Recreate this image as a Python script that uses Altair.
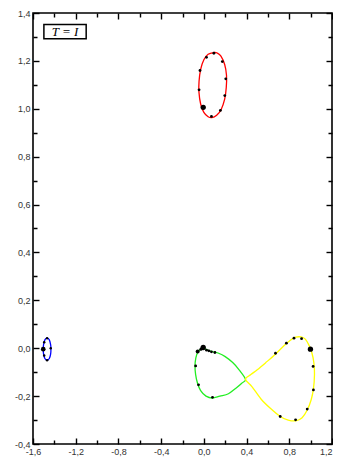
import altair as alt
import pandas as pd

# ---- axis ticks ----
x_ticks = [-1.6, -1.4, -1.2, -1.0, -0.8, -0.6, -0.4, -0.2, 0.0, 0.2, 0.4, 0.6, 0.8, 1.0, 1.2]
y_ticks = [-0.4, -0.3, -0.2, -0.1, 0.0, 0.1, 0.2, 0.3, 0.4, 0.5, 0.6, 0.7, 0.8, 0.9, 1.0,
           1.1, 1.2, 1.3, 1.4]

# ---- curves (outline points) ----
red_x = [0.094, 0.04, 0.0, -0.03, -0.045, -0.046, -0.03, 0.0, 0.04, 0.075, 0.12, 0.16,
         0.195, 0.21, 0.212, 0.195, 0.16, 0.125]
red_y = [1.235, 1.228, 1.205, 1.165, 1.115, 1.07, 1.02, 0.985, 0.967, 0.963, 0.973, 0.995,
         1.04, 1.09, 1.14, 1.185, 1.22, 1.233]

blue_x = [-1.468, -1.447, -1.435, -1.432, -1.435, -1.447, -1.468, -1.489, -1.501, -1.504,
          -1.501, -1.489]
blue_y = [0.042, 0.035, 0.015, -0.004, -0.025, -0.043, -0.05, -0.043, -0.025, -0.004,
          0.015, 0.035]

green_x = [0.39, 0.33, 0.27, 0.2, 0.133, 0.09, 0.05, 0.02, 0.0, -0.025, -0.055, -0.075,
           -0.083, -0.077, -0.06, -0.03, 0.02, 0.08, 0.15, 0.23, 0.3, 0.355]
green_y = [-0.13, -0.09, -0.06, -0.035, -0.02, -0.015, -0.01, -0.005, 0.003, -0.003, -0.015,
           -0.04, -0.074, -0.11, -0.145, -0.177, -0.2, -0.208, -0.2, -0.19, -0.167, -0.146]

yellow_x = [0.39, 0.45, 0.535, 0.62, 0.715, 0.79, 0.86, 0.92, 0.968, 1.005, 1.026, 1.036,
            1.03, 1.012, 0.985, 0.95, 0.91, 0.86, 0.81, 0.75, 0.67, 0.58, 0.5, 0.44]
yellow_y = [-0.13, -0.16, -0.212, -0.25, -0.285, -0.3, -0.303, -0.29, -0.258, -0.215, -0.17,
            -0.11, -0.06, -0.02, 0.012, 0.038, 0.047, 0.046, 0.033, 0.01, -0.025, -0.06,
            -0.09, -0.11]

curve_names = ["red", "blue", "green", "yellow"]
curve_colors = ["#ff0000", "#0000ff", "#22ee22", "#ffff00"]

# ---- markers (black dots) ----
mark_x = [0.094, 0.025, 0.173, -0.036, 0.205, -0.045, 0.196, -0.006, 0.155, 0.071,
          -1.504, -1.468, -1.468, -1.495, -1.495, -1.434,
          0.103, 0.071, 0.047, 0.025, -0.006, -0.027, -0.058, -0.077, -0.05, 0.081,
          0.671, 0.773, 0.844, 0.915, 0.998, 1.023, 1.026, 0.968, 0.859, 0.715]
mark_y = [1.232, 1.215, 1.197, 1.160, 1.125, 1.079, 1.055, 1.006, 0.993, 0.968,
          -0.004, 0.042, -0.05, 0.025, -0.03, 0.0,
          -0.018, -0.015, -0.011, -0.008, 0.003, -0.004, -0.014, -0.074, -0.153, -0.205,
          -0.021, 0.021, 0.042, 0.040, -0.004, -0.076, -0.174, -0.254, -0.299, -0.285]
mark_s = [8, 8, 8, 8, 8, 8, 8, 28, 8, 8,
          22, 6, 6, 6, 6, 6,
          8, 8, 8, 8, 28, 10, 16, 8, 8, 8,
          8, 8, 8, 8, 28, 8, 8, 8, 8, 8]

# ---- annotation box ----
box_x = [-1.498]
box_x2 = [-1.102]
box_y = [1.352]
box_y2 = [1.292]
label_x = [-1.30]
label_y = [1.322]
label_text = ["T = I"]

rows = []
for name, xs_, ys_ in [("red", red_x, red_y), ("blue", blue_x, blue_y),
                       ("green", green_x, green_y), ("yellow", yellow_x, yellow_y)]:
    for i, (a, b) in enumerate(zip(xs_, ys_)):
        rows.append({"curve": name, "i": i, "x": a, "y": b})
curves = pd.DataFrame(rows)
marks = pd.DataFrame({"x": mark_x, "y": mark_y, "s": mark_s})
box = pd.DataFrame({"x": box_x, "x2": box_x2, "y": box_y, "y2": box_y2})
lab = pd.DataFrame({"x": label_x, "y": label_y, "t": label_text})

xs = alt.Scale(domain=[-1.6, 1.2], nice=False, zero=False)
ys = alt.Scale(domain=[-0.4, 1.4], nice=False, zero=False)


def make_axis(orient, values, major_test, labels, last_test=None):
    lab_expr = ("(" + major_test + ") ? ((datum.value < 0 ? '-' : '') + "
                "replace(format(abs(datum.value), '.1f'), '.', ',')) : ''")
    kw = dict(
        orient=orient, values=values, grid=False, domain=False, offset=-6,
        tickSize=6, tickWidth=1.4, tickColor="black",
        tickDash={"condition": {"test": "!(" + major_test + ")", "value": [0, 2, 4]},
                  "value": [6, 0]},
        labels=labels, title=None, labelOverlap=False, labelFlush=False,
        labelFont="Liberation Sans", labelFontSize=9, labelColor="#333333",
        labelPadding=3,
    )
    if labels:
        kw["labelExpr"] = lab_expr
    if last_test:
        kw["labelAlign"] = {"condition": {"test": last_test, "value": "right"},
                            "value": "center"}
    return alt.Axis(**kw)


x_major = "abs(round(datum.value * 5)) % 2 == 0"
y_major = "abs(round(datum.value * 10)) % 2 == 0"

lines = alt.Chart(curves).mark_line(interpolate="cardinal-closed", strokeWidth=1.3).encode(
    x=alt.X("x:Q", scale=xs,
            axis=make_axis("bottom", x_ticks, x_major, True, "datum.value > 1.15")),
    y=alt.Y("y:Q", scale=ys, axis=make_axis("left", y_ticks, y_major, True)),
    color=alt.Color("curve:N", scale=alt.Scale(domain=curve_names, range=curve_colors),
                    legend=None),
    order=alt.Order("i:Q"),
)

dots = alt.Chart(marks).mark_circle(color="black", opacity=1).encode(
    x=alt.X("x:Q", scale=xs, axis=make_axis("top", x_ticks, x_major, False)),
    y=alt.Y("y:Q", scale=ys, axis=make_axis("right", y_ticks, y_major, False)),
    size=alt.Size("s:Q", scale=None, legend=None),
)

rect = alt.Chart(box).mark_rect(fill="white", stroke="black", strokeWidth=1.5).encode(
    x=alt.X("x:Q", scale=xs, axis=None),
    x2="x2:Q",
    y=alt.Y("y:Q", scale=ys, axis=None),
    y2="y2:Q",
)

text = alt.Chart(lab).mark_text(font="Liberation Serif", fontStyle="italic", fontSize=13,
                                color="black").encode(
    x=alt.X("x:Q", scale=xs, axis=None),
    y=alt.Y("y:Q", scale=ys, axis=None),
    text="t:N",
)

chart = alt.layer(lines, dots, rect, text).resolve_axis(
    x="independent", y="independent"
).properties(
    width=299, height=431,
    autosize=alt.AutoSizeParams(type="none"),
    padding={"left": 25, "top": 5, "right": 1, "bottom": 14},
    background="white",
).configure_view(stroke="black", strokeWidth=1.6)

chart.save("out.html", embed_options={"renderer": "svg", "actions": False})
